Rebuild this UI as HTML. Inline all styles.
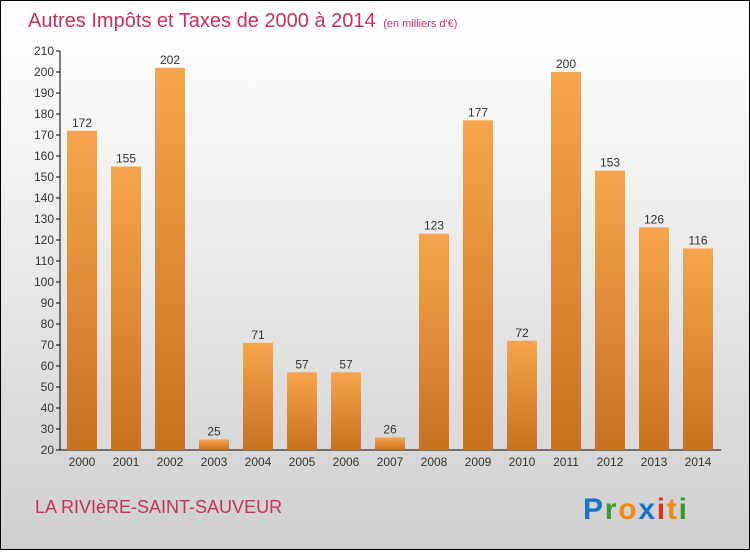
<!DOCTYPE html>
<html><head><meta charset="utf-8"><style>
html,body{margin:0;padding:0}
body{width:750px;height:550px;overflow:hidden;font-family:"Liberation Sans",sans-serif}
#c{position:absolute;left:0;top:0;width:748px;height:548px;border:1px solid #000;background:linear-gradient(#ffffff,#f2f2f2 30%,#cfcfcf)}
</style></head><body>
<div id="c">
<svg id="s" width="748" height="548" xmlns="http://www.w3.org/2000/svg">
<defs><linearGradient id="g" x1="0" y1="0" x2="0" y2="1"><stop offset="0" stop-color="#f6a54e"/><stop offset="1" stop-color="#c8711f"/></linearGradient></defs>
<text x="27" y="26" font-size="20" fill="#c8305a">Autres Impôts et Taxes de 2000 à 2014 <tspan font-size="11" dx="2">(en milliers d'€)</tspan></text>
<text x="34" y="512" font-size="18" fill="#c8305a">LA RIVIèRE-SAINT-SAUVEUR</text>
<g font-size="30" font-weight="bold">
<text x="582" y="518" textLength="104" lengthAdjust="spacing"><tspan fill="#1a73c8">P</tspan><tspan fill="#3a9a30">r</tspan><tspan fill="#f08a10">o</tspan><tspan fill="#1a73c8">x</tspan><tspan fill="#e03020">i</tspan><tspan fill="#f08a10">t</tspan><tspan fill="#3a9a30">i</tspan></text></g>
<g id="axes"></g><g id="bars"></g>
</svg></div>
<script>
const years=["2000","2001","2002","2003","2004","2005","2006","2007","2008","2009","2010","2011","2012","2013","2014"];
const values=[172,155,202,25,71,57,57,26,123,177,72,200,153,126,116];
const yTicks=[20,30,40,50,60,70,80,90,100,110,120,130,140,150,160,170,180,190,200,210];
const NS="http://www.w3.org/2000/svg";
const y0=449,yk=2.1,ymin=20;
function Y(v){return y0-(v-ymin)*yk;}
function X(i){return 81+i*44;}
function el(t,a,p,txt){const e=document.createElementNS(NS,t);for(const k in a)e.setAttribute(k,a[k]);if(txt!==undefined)e.textContent=txt;p.appendChild(e);return e;}
const ax=document.getElementById('axes'),bs=document.getElementById('bars');
const yl=el('line',{x1:59,y1:Y(210),x2:59,y2:y0,stroke:'#000'},ax);


const xl=el('line',{x1:59,y1:y0,x2:720,y2:y0,stroke:'#000'},ax);


yTicks.forEach(v=>{
 el('line',{x1:55,y1:Y(v),x2:59,y2:Y(v),stroke:'#000'},ax);
 const t=el('text',{x:53,y:Y(v)+4,'font-size':12,fill:'#333','text-anchor':'end'},ax,v);
 
 
});
years.forEach((yr,i)=>{
 const v=values[i],x=X(i);
 const r=el('rect',{x:x-15,y:Y(v),width:30,height:y0-Y(v),fill:'url(#g)'},bs);
 
 
 const l=el('text',{x:x,y:Y(v)-4,'font-size':12,fill:'#333','text-anchor':'middle'},bs,v);
 
 
 const t=el('text',{x:x,y:y0+16,'font-size':12,fill:'#333','text-anchor':'middle'},ax,yr);
 
 
});
</script>
</body></html>
